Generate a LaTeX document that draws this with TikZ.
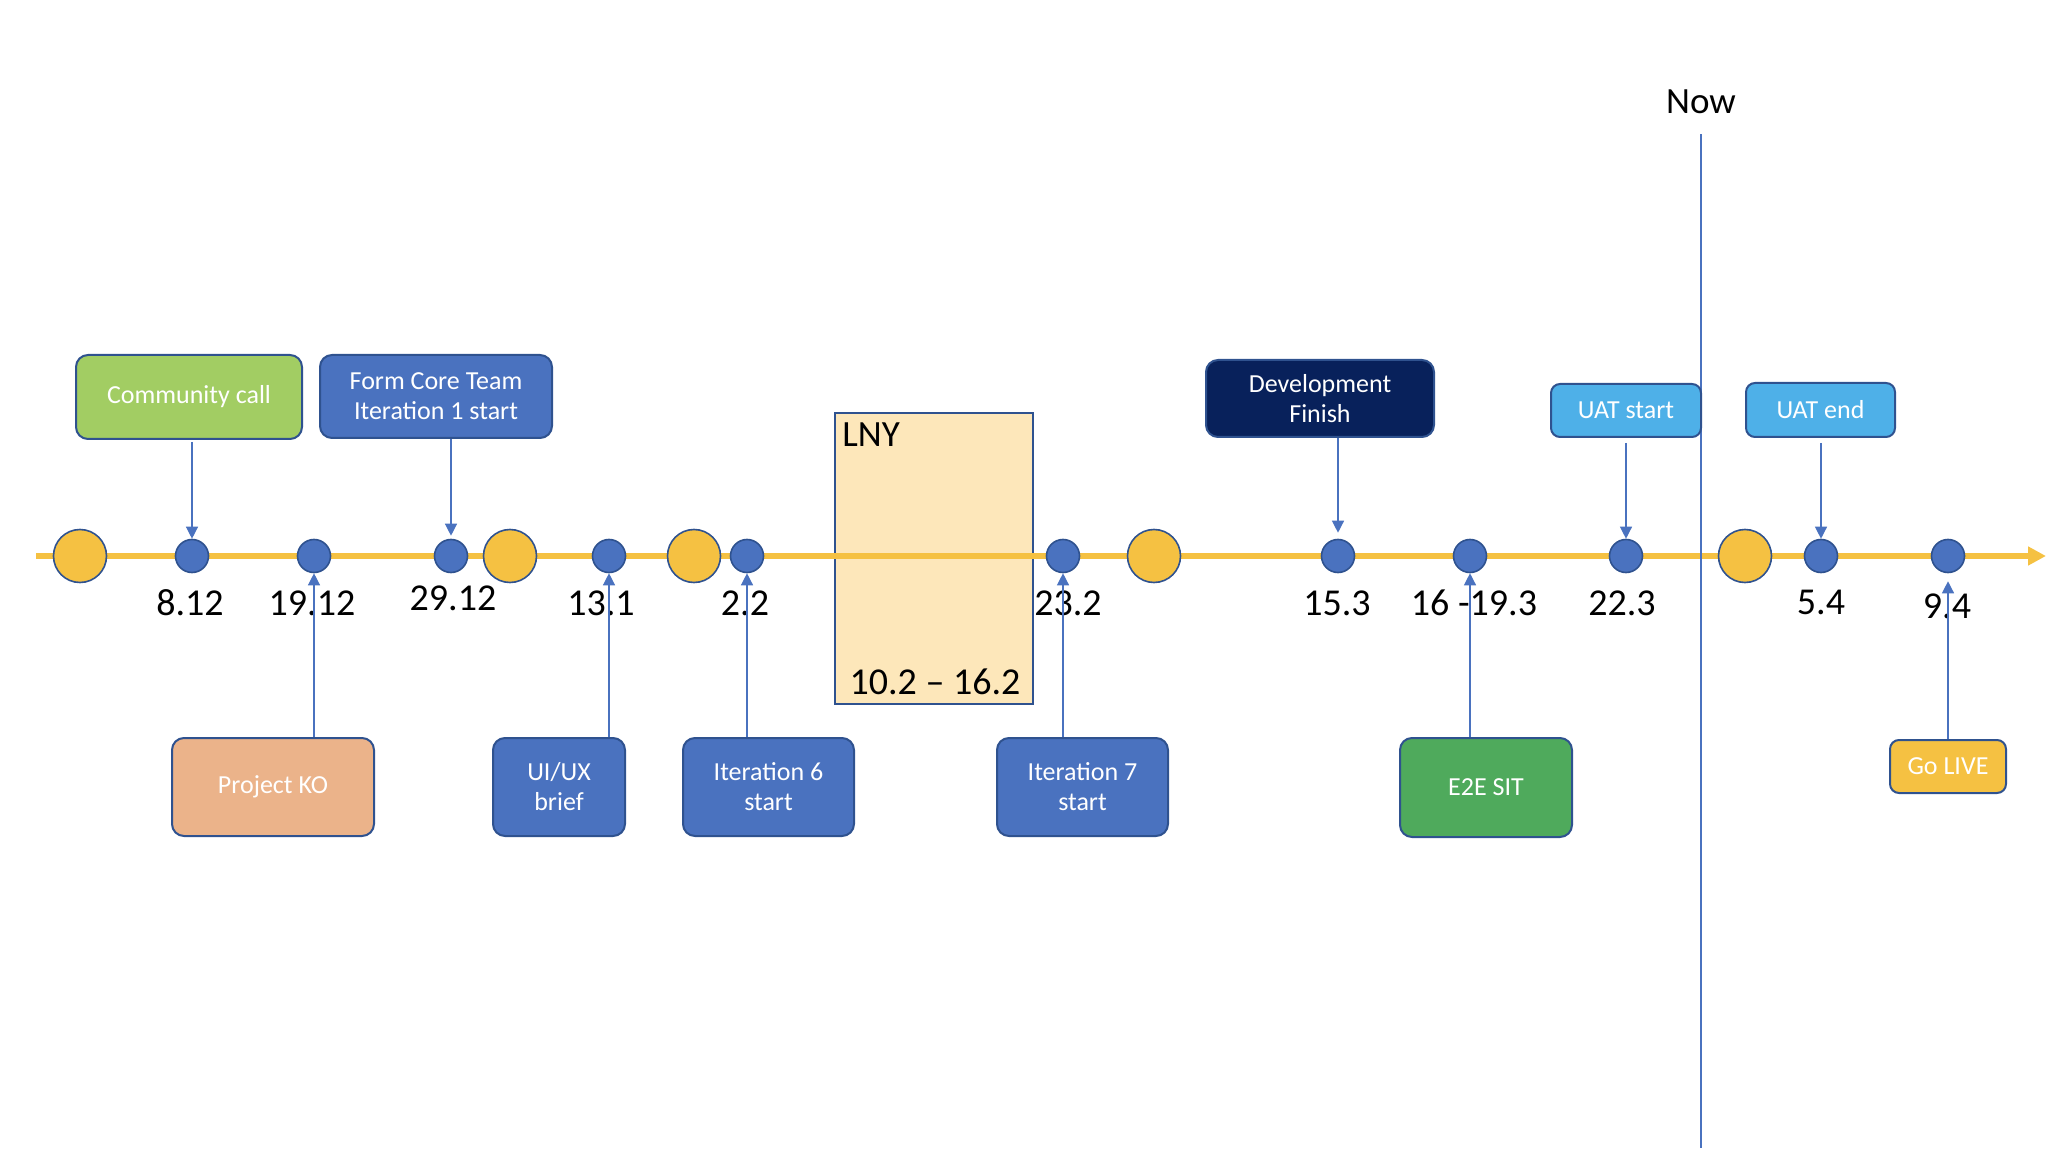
\documentclass[tikz,border=0pt]{standalone}
\usepackage{fontspec}
\setmainfont{Carlito}
\usepackage{tikz}
\usetikzlibrary{arrows.meta}
\definecolor{tlorange}{HTML}{F5C142}
\definecolor{dotblue}{HTML}{4A72BF}
\definecolor{rimblue}{HTML}{2F528F}
\definecolor{ccgreen}{HTML}{A2CD63}
\definecolor{kopeach}{HTML}{EBB38A}
\definecolor{devnavy}{HTML}{08215B}
\definecolor{uatblue}{HTML}{4EB0E8}
\definecolor{sitgreen}{HTML}{4FAA5C}
\definecolor{lnycream}{HTML}{FDE7BA}
\tikzset{
	evdot/.style={circle,draw=rimblue,line width=0.8pt,fill=dotblue,minimum size=16.5pt,inner sep=0pt},
	yeardot/.style={circle,draw=rimblue,line width=0.8pt,fill=tlorange,minimum size=26.5pt,inner sep=0pt},
	datelabel/.style={font=\fontsize{19}{23}\selectfont,inner sep=0pt},
	eventbox/.style={draw=rimblue,line width=1pt,rounded corners=6pt,text=white,align=center,inner sep=0pt,font=\fontsize{13}{15}\selectfont},
	conn/.style={dotblue,line width=0.65pt,-{Triangle[length=6pt,width=6pt]}},
}

\begin{document}
\begin{tikzpicture}[x=0.5pt,y=0.5pt]
	\useasboundingbox (0,0) rectangle (2046,1148);
	\node[draw=rimblue,line width=1pt,fill=lnycream,minimum width=99pt,minimum height=145.5pt,inner sep=0pt] (lny) at (934,589.5) {};
	\node[anchor=north west,inner sep=0pt,font=\fontsize{18.5}{22}\selectfont] (lnyname) at ([xshift=4pt,yshift=-5pt]lny.north west) {LNY};
	\node[datelabel] (lnyrange) at (935,466) {10.2 -- 16.2};
	\coordinate (tlstart) at (36,592);
	\coordinate (tlend) at (2046,592);
	\draw[tlorange,line width=3pt,-{Triangle[length=9pt,width=9pt]}] (tlstart) -- (tlend);
	\node[inner sep=0pt,font=\fontsize{18.5}{22}\selectfont] (now) at (1701,1046) {Now};
	\coordinate (nowbot) at (1701,0);
	\draw[dotblue,line width=0.65pt,shorten <=10pt] (now.south) -- (nowbot);

	\node[yeardot] (y1) at (80,592) {};
	\node[yeardot] (y2) at (510,592) {};
	\node[yeardot] (y3) at (694,592) {};
	\node[yeardot] (y4) at (1154,592) {};
	\node[yeardot] (y5) at (1745,592) {};

	\node[evdot] (d1) at (192,592) {};
	\node[evdot] (d2) at (314,592) {};
	\node[evdot] (d3) at (451,592) {};
	\node[evdot] (d4) at (609,592) {};
	\node[evdot] (d5) at (747,592) {};
	\node[evdot] (d6) at (1063,592) {};
	\node[evdot] (d7) at (1338,592) {};
	\node[evdot] (d8) at (1470,592) {};
	\node[evdot] (d9) at (1626,592) {};
	\node[evdot] (d10) at (1821,592) {};
	\node[evdot] (d11) at (1948,592) {};

	\node[datelabel] (t1) at (190,545) {8.12};
	\node[datelabel] (t2) at (312,545) {19.12};
	\node[datelabel] (t3) at (453,550) {29.12};
	\node[datelabel] (t4) at (601,545) {13.1};
	\node[datelabel] (t5) at (745,545) {2.2};
	\node[datelabel] (t6) at (1068,545) {23.2};
	\node[datelabel] (t7) at (1337,545) {15.3};
	\node[datelabel] (t8) at (1474,545) {16 -19.3};
	\node[datelabel] (t9) at (1622,545) {22.3};
	\node[datelabel] (t10) at (1821,546) {5.4};
	\node[datelabel] (t11) at (1947,542) {9.4};

	\node[eventbox,fill=ccgreen,minimum width=113pt,minimum height=42pt] (cc) at (189,751) {Community call};
	\node[eventbox,fill=dotblue,minimum width=116pt,minimum height=41.5pt] (core) at (436,751.5) {Form Core Team\\Iteration 1 start};
	\node[eventbox,fill=devnavy,minimum width=114pt,minimum height=38.5pt] (dev) at (1320,749.5) {Development\\Finish};
	\node[eventbox,fill=uatblue,minimum width=75pt,minimum height=26.5pt,rounded corners=4.5pt] (uats) at (1626,737.5) {UAT start};
	\node[eventbox,fill=uatblue,minimum width=74.5pt,minimum height=27pt,rounded corners=4.5pt] (uate) at (1820.5,738) {UAT end};
	\node[eventbox,fill=kopeach,minimum width=101pt,minimum height=49pt] (ko) at (273,361) {Project KO};
	\node[eventbox,fill=dotblue,minimum width=66pt,minimum height=49pt] (uiux) at (559,361) {UI/UX\\brief};
	\node[eventbox,fill=dotblue,minimum width=85.5pt,minimum height=49pt] (it6) at (768.5,361) {Iteration 6\\start};
	\node[eventbox,fill=dotblue,minimum width=85.5pt,minimum height=49pt] (it7) at (1082.5,361) {Iteration 7\\start};
	\node[eventbox,fill=sitgreen,minimum width=86pt,minimum height=49.5pt] (sit) at (1486,360.5) {E2E SIT};
	\node[eventbox,fill=tlorange,minimum width=58pt,minimum height=26.5pt,rounded corners=4.5pt] (live) at (1948,381.5) {Go LIVE};

	\draw[conn,shorten <=1pt] (cc.south -| d1) -- (d1.north);
	\draw[conn,shorten >=1.5pt] (core.south -| d3) -- (d3.north);
	\draw[conn,shorten >=3pt] (dev.south -| d7) -- (d7.north);
	\draw[conn,shorten <=2.5pt] (uats.south -| d9) -- (d9.north);
	\draw[conn,shorten <=2.5pt] (uate.south -| d10) -- (d10.north);
	\draw[conn] (ko.north -| d2) -- (d2.south);
	\draw[conn] (uiux.north -| d4) -- (d4.south);
	\draw[conn] (it6.north -| d5) -- (d5.south);
	\draw[conn] (it7.north -| d6) -- (d6.south);
	\draw[conn] (sit.north -| d8) -- (d8.south);
	\draw[conn,shorten >=4pt] (live.north -| d11) -- (d11.south);
\end{tikzpicture}
\end{document}
